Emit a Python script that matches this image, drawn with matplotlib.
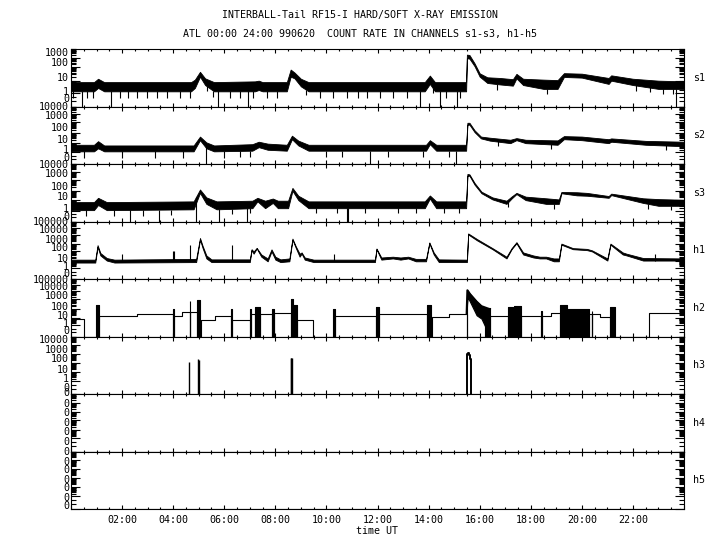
import numpy as np
import matplotlib
matplotlib.use("Agg")
import matplotlib.pyplot as plt

plt.rcParams['font.family'] = ['DejaVu Sans Mono']
FS = 7.2

# ---------------- data (time in hours UT) ----------------
# s1: noise band (lower / upper envelope), dips to zero, short dips
S1_T  = [0.0, 0.9, 1.06, 1.3, 4.7, 4.85, 5.05, 5.25, 5.6, 7.2, 7.35, 7.5, 8.45, 8.6, 8.75, 9.0, 9.3,
         13.85, 14.05, 14.25, 15.47, 15.5, 15.6, 15.8, 16.0, 16.3, 16.8, 17.3, 17.44, 17.7, 18.5, 19.05,
         19.3, 20.0, 21.05, 21.15, 22.0, 23.0, 24.0]
S1_LO = [1.5, 1.5, 3, 1.5, 1.5, 3, 20, 5, 1.5, 1.5, 2, 1.5, 1.5, 20, 15, 4, 1.5,
         1.5, 6, 1.5, 1.5, 900, 800, 120, 20, 7, 5.5, 4.5, 15, 5, 2.5, 2.5,
         19, 17, 6, 10, 5, 2.5, 2.5]
S1_HI = [8, 8, 14, 8, 8, 12, 45, 15, 8, 9, 10, 8, 8, 65, 40, 14, 8,
         8, 24, 8, 8, 2200, 2000, 250, 35, 18, 16, 13, 32, 14, 12, 11,
         36, 33, 16, 25, 14, 10, 9]
S1_ZERO = [0.42, 1.57, 5.77, 6.94, 13.66, 14.44, 15.1, 23.7]
S1_DIPS = [0.09, 0.64, 0.87, 1.92, 2.24, 2.57, 2.96, 3.35, 3.75, 4.27, 4.66, 5.31, 5.57, 6.22, 6.61,
           7.14, 7.66, 8.05, 9.22, 9.75, 10.27, 10.79, 11.25, 11.57, 12.09, 12.61, 13.14, 14.18,
           14.7, 15.22, 16.66, 18.62, 22.14, 22.66, 23.18, 23.57]

S2_T  = [0.0, 0.9, 1.06, 1.3, 4.8, 5.05, 5.3, 5.6, 7.1, 7.35, 7.7, 8.45, 8.65, 8.9, 9.3,
         13.9, 14.05, 14.3, 15.47, 15.52, 15.6, 15.8, 16.05, 16.4, 17.2, 17.44, 17.8, 19.05,
         19.3, 20.0, 21.05, 21.15, 22.5, 24.0]
S2_LO = [1.2, 1.2, 3, 1.2, 1.2, 20, 3, 1.2, 1.5, 4, 2, 1.5, 25, 6, 1.5,
         1.5, 8, 1.5, 1.5, 600, 600, 120, 30, 18, 10, 20, 10, 7,
         25, 20, 10, 14, 7, 5]
S2_HI = [7, 7, 16, 6, 6, 45, 12, 6, 8, 14, 9, 7, 55, 18, 7,
         7, 20, 7, 7, 900, 900, 180, 45, 35, 22, 32, 22, 19,
         50, 45, 25, 30, 17, 14]
S2_ZERO = [5.27, 11.7, 15.07]
S2_DIPS = [0.5, 2.0, 3.3, 4.4, 6.0, 6.6, 7.0, 10.0, 10.6, 12.4, 13.8, 14.8, 16.7, 18.8, 23.3]

S3_T  = [0.0, 0.9, 1.06, 1.4, 4.8, 5.05, 5.3, 5.7, 7.1, 7.3, 7.6, 7.9, 8.1, 8.5, 8.67, 8.9, 9.3,
         13.85, 14.05, 14.3, 15.47, 15.52, 15.6, 15.8, 16.07, 16.5, 17.05, 17.25, 17.44, 17.8,
         18.6, 19.1, 19.2, 19.8, 20.2, 21.05, 21.15, 22.4, 23.0, 24.0]
S3_LO = [1.2, 1.2, 4, 1.2, 1.5, 60, 5, 1.5, 2, 8, 2, 6, 2, 2, 100, 10, 2,
         2, 15, 2, 2, 3000, 3000, 350, 55, 12, 5, 15, 45, 10,
         5, 5, 55, 33, 30, 18, 35, 6, 3.4, 3.4]
S3_HI = [7, 7, 18, 7, 8, 130, 20, 8, 9, 18, 9, 15, 9, 9, 180, 30, 8,
         8, 32, 8, 8, 5000, 4500, 500, 80, 20, 9, 25, 60, 24,
         16, 12, 75, 70, 60, 28, 50, 16, 13, 11]
S3_ZERO = [2.31, 3.45, 4.89, 5.8, 6.88, 10.82, 10.85]
S3_DIPS = [0.6, 1.7, 2.8, 3.9, 6.3, 7.0, 9.6, 10.4, 11.5, 12.8, 13.5, 14.6, 15.2, 17.1, 18.9, 22.6, 23.5]

H1_T  = [0.0, 0.95, 1.04, 1.15, 1.4, 1.7, 4.9, 5.05, 5.15, 5.3, 5.5, 7.0, 7.07, 7.15, 7.27, 7.45,
         7.7, 7.85, 8.0, 8.2, 8.55, 8.67, 8.8, 8.95, 9.03, 9.15, 9.5, 11.9, 11.96, 12.15, 12.6,
         12.9, 13.2, 13.5, 13.9, 14.03, 14.2, 14.4, 15.5, 15.55, 15.9, 16.5, 17.05, 17.25, 17.44,
         17.7, 18.1, 18.35, 18.6, 18.9, 19.1, 19.2, 19.65, 20.2, 20.4, 21.0, 21.12, 21.6, 21.75,
         22.4, 24.0]
H1_LO = [7, 7, 400, 40, 12, 7, 8, 3000, 300, 20, 8, 8, 150, 60, 250, 30,
         10, 100, 15, 8, 10, 3000, 300, 30, 60, 15, 8, 8, 200, 15, 20,
         15, 20, 10, 10, 1200, 50, 8, 8, 12000, 2500, 200, 20, 200, 1200,
         50, 25, 20, 20, 10, 10, 800, 200, 150, 100, 12, 800, 50, 40,
         12, 12]
H1_HI = [15, 15, 700, 70, 22, 15, 18, 4700, 600, 40, 16, 16, 200, 100, 300, 50,
         20, 190, 30, 16, 20, 4000, 500, 60, 80, 25, 15, 15, 250, 25, 30,
         25, 30, 18, 18, 1500, 80, 16, 15, 17000, 3500, 280, 30, 280, 1600,
         80, 40, 30, 30, 20, 20, 1100, 280, 220, 140, 20, 1100, 80, 60,
         22, 20]
H1_SPIKE_T = [1.98, 4.0, 4.05, 4.66, 6.29, 10.3, 22.86]
H1_SPIKE_V = [50, 130, 110, 700, 700, 50, 50]

# h2: step levels (post), bursts (start, end, top) and the 15:30 flare
H2_T = [0.0, 0.52, 1.1, 2.57, 4.0, 4.04, 4.35, 4.65, 4.67, 4.93, 5.1, 5.64, 6.27, 6.32, 7.0, 7.05,
        7.2, 7.4, 7.85, 7.95, 8.6, 8.83, 9.49, 10.33, 11.95, 12.05, 13.92, 14.12, 14.81, 15.49,
        16.4, 17.12, 17.61, 18.42, 18.44, 18.79, 19.14, 20.29, 20.38, 20.4, 20.73, 21.1, 22.64, 24.0]
H2_V = [8, 0, 15, 27, 0, 15, 50, 0, 50, 0, 5, 16, 0, 5, 0, 30,
        0, 30, 0, 35, 0, 5, 0, 16, 0, 30, 0, 14, 30, 0,
        16, 0, 16, 0, 16, 35, 0, 30, 0, 30, 14, 0, 35, 35]
H2_BURST_T0  = [0.98, 4.0, 4.65, 4.93, 6.27, 7.0, 7.2, 7.85, 8.6, 8.7, 10.27, 11.95, 13.92,
                15.49, 16.2, 17.12, 17.34, 18.42, 19.14, 19.4, 20.38, 21.1]
H2_BURST_T1  = [1.1, 4.04, 4.67, 5.07, 6.32, 7.05, 7.4, 7.95, 8.7, 8.83, 10.33, 12.05, 14.1,
                15.5, 16.4, 17.3, 17.61, 18.44, 19.4, 20.29, 20.4, 21.29]
H2_BURST_TOP = [290, 115, 750, 800, 100, 100, 180, 100, 1280, 300, 100, 180, 250,
                13000, 150, 180, 200, 70, 250, 100, 70, 180]
H2_FL_T = [15.49, 15.52, 15.62, 15.88, 16.07, 16.4]
H2_FL_V = [30, 13000, 4400, 610, 208, 100]
H2_FL_LO = [30, 2000, 600, 20, 8, 0]

H3_SPIKE_T = [4.63, 4.98, 5.03, 8.6, 8.63, 8.66]
H3_SPIKE_V = [125, 290, 200, 370, 370, 370]
H3_FL_T = [15.49, 15.53, 15.58, 15.62, 15.66, 15.68]
H3_FL_V = [1000, 1500, 800, 290, 100, 0]

# axis label values and their heights (pixels below the panel top)
LABELS = {
    's1': (['1000', '100', '10', '1', '0'], [4.3, 14.3, 29.3, 42.7, 50.3]),
    's2': (['10000', '1000', '100', '10', '1', '0'], [0.2, 9.5, 21.8, 33.5, 43.5, 51.8]),
    's3': (['10000', '1000', '100', '10', '1', '0'], [1.0, 10.0, 22.7, 33.3, 45.3, 52.7]),
    'h1': (['100000', '10000', '1000', '100', '10', '1', '0'], [0.8, 8.5, 18.5, 26.8, 37.8, 45.2, 52.5]),
    'h2': (['100000', '10000', '1000', '100', '10', '1', '0'], [1.0, 7.7, 17.0, 27.7, 37.0, 45.0, 51.7]),
    'h3': (['10000', '1000', '100', '10', '1', '0'], [3.5, 13.5, 22.8, 33.5, 42.8, 51.8]),
    'h4': (['10000', '1000', '100', '10', '1', '0'], [3.5, 13.5, 22.8, 33.5, 42.8, 51.8]),
    'h5': (['10000', '1000', '100', '10', '1', '0'], [3.5, 13.5, 22.8, 33.5, 42.8, 51.8]),
}
ZERO_TEXT = {
    'h4': [-1, 10, 19, 29, 38, 48],
    'h5': [0.2, 10.5, 18.5, 28.5, 36.5, 46.5, 54.5],
}
CHANNELS = ['s1', 's2', 's3', 'h1', 'h2', 'h3', 'h4', 'h5']

PH = 57.5   # panel height, px
TOP0 = 49   # top of first panel, px


def make_scale(labels, offs):
    vals = [float(s) for s in labels if s != '0'][::-1]
    po = [o for s, o in zip(labels, offs) if s != '0'][::-1]
    U = [0.0] + [np.log10(v + 1) for v in vals]
    P = [0.0] + [1 - o / PH for o in po]
    slope = (P[-1] - P[-2]) / (U[-1] - U[-2])
    U.append(U[-1] + 6); P.append(P[-1] + slope * 6)
    U = np.array(U); P = np.array(P)

    def fwd(v):
        v = np.asarray(v, dtype=float)
        return np.interp(np.log10(np.clip(v, 0, None) + 1), U, P)

    def inv(p):
        return 10 ** np.interp(np.asarray(p, dtype=float), P, U) - 1
    return fwd, inv, vals


def band(ax, T, LO, HI, zero, dips):
    ax.fill_between(T, LO, HI, color='k', lw=0.6)
    lo_z = np.interp(zero, T, LO)
    ax.vlines(zero, 0, lo_z, color='k', lw=0.8)
    lo_d = np.interp(dips, T, LO)
    ax.vlines(dips, np.array(lo_d) * 0.35, lo_d, color='k', lw=0.8)


fig = plt.figure(figsize=(7.2, 5.5), dpi=100)
axes = []
for i, ch in enumerate(CHANNELS):
    top = TOP0 + PH * i
    ax = fig.add_axes([71 / 720, 1 - (top + PH) / 550, 613 / 720, PH / 550])
    labels, offs = LABELS[ch]
    fwd, inv, vals = make_scale(labels, offs)
    ax.set_yscale('function', functions=(fwd, inv))
    ax.set_xlim(0, 24)
    ax.set_ylim(0, float(inv(1.0)))

    major = [0] + vals
    minor = [0.3, 0.6]
    for v in vals[:-1] if len(vals) > 1 else []:
        minor += [k * v for k in range(2, 10)]
    minor += [k * vals[-1] for k in range(2, 10)]
    ax.set_yticks(major)
    ax.set_yticks(minor, minor=True)
    ax.set_yticklabels([])
    ax.tick_params(axis='y', which='major', direction='in', length=6.5, width=0.8,
                   left=True, right=True)
    ax.tick_params(axis='y', which='minor', direction='in', length=3.3, width=0.8,
                   left=True, right=True)
    ax.set_xticks(range(0, 25, 2))
    ax.set_xticks(np.arange(0, 24.01, 0.5), minor=True)
    ax.tick_params(axis='x', which='major', direction='in', length=3, width=0.8,
                   top=True, bottom=True, pad=4, labelsize=FS)
    ax.tick_params(axis='x', which='minor', direction='in', length=1.6, width=0.8,
                   top=True, bottom=True)
    for sp in ax.spines.values():
        sp.set_linewidth(0.8)

    # tick label texts
    if ch in ZERO_TEXT:
        for o in ZERO_TEXT[ch]:
            ax.text(-0.003, 1 - o / PH, '0', transform=ax.transAxes, ha='right', va='center',
                    fontsize=FS, clip_on=False)
    else:
        for s, o in zip(labels, offs):
            ax.text(-0.003, 1 - o / PH, s, transform=ax.transAxes, ha='right', va='center',
                    fontsize=FS, clip_on=False)
    ax.text(1 + 9 / 613, 0.5, ch, transform=ax.transAxes, ha='left', va='center', fontsize=FS)
    axes.append(ax)

band(axes[0], S1_T, S1_LO, S1_HI, S1_ZERO, S1_DIPS)
band(axes[1], S2_T, S2_LO, S2_HI, S2_ZERO, S2_DIPS)
band(axes[2], S3_T, S3_LO, S3_HI, S3_ZERO, S3_DIPS)
band(axes[3], H1_T, H1_LO, H1_HI, [], [])
axes[3].vlines(H1_SPIKE_T, 10, H1_SPIKE_V, color='k', lw=0.8)

ax = axes[4]
ax.step(H2_T, H2_V, where='post', color='k', lw=0.8)
for t0, t1, tp in zip(H2_BURST_T0, H2_BURST_T1, H2_BURST_TOP):
    ax.fill_between([t0, t1], 0, tp, color='k', lw=0.8)
ax.fill_between(H2_FL_T, H2_FL_LO, H2_FL_V, color='k', lw=0.8)
ax.plot(H2_FL_T, H2_FL_V, color='k', lw=1.5)

ax = axes[5]
ax.vlines(H3_SPIKE_T, 0, H3_SPIKE_V, color='k', lw=1.0)
ax.step([H3_FL_T[0]] + H3_FL_T, [0] + H3_FL_V, where='post', color='k', lw=1.4)

for ax in axes[6:]:
    ax.plot([0, 24], [0, 0], color='k', lw=0.8)

for ax in axes[:-1]:
    ax.set_xticklabels([])
axes[-1].set_xticklabels([''] + ['%02d:00' % h for h in range(2, 24, 2)] + [''])
axes[-1].set_xlabel('time UT', fontsize=FS, labelpad=1)

fig.text(0.5, 1 - 15 / 550, 'INTERBALL-Tail RF15-I HARD/SOFT X-RAY EMISSION',
         ha='center', va='center', fontsize=FS)
fig.text(0.5, 1 - 34 / 550, 'ATL 00:00 24:00 990620  COUNT RATE IN CHANNELS s1-s3, h1-h5',
         ha='center', va='center', fontsize=FS)

fig.savefig('out.png', dpi=100)
